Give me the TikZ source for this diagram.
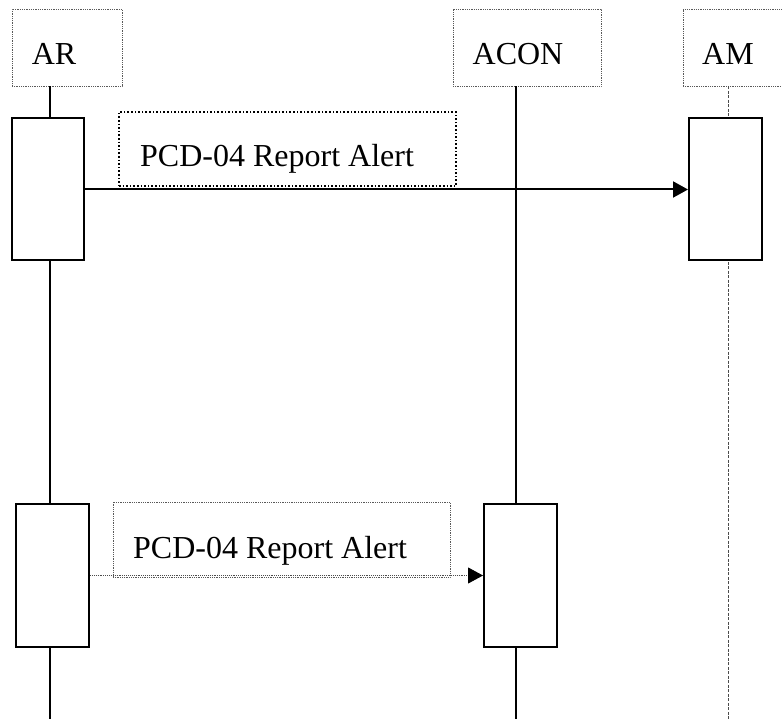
\documentclass[tikz,border=0pt]{standalone}
\usepackage{fontspec}
\setmainfont{Liberation Serif}
\usetikzlibrary{arrows.meta}
\begin{document}
\begin{tikzpicture}[x=1pt,y=-1pt,
  headbox/.style={draw=black!65,densely dotted,line width=0.8pt,inner sep=0pt},
  actbox/.style={draw=black,fill=white,line width=2pt,inner sep=0pt},
  lifesolid/.style={draw=black,line width=2pt},
  lifedash/.style={draw=black!70,line width=1pt,dash pattern=on 3pt off 1.5pt},
  lbltxt/.style={font=\fontsize{32}{38}\selectfont,inner sep=0pt},
  msgsolid/.style={line width=2pt,-{Triangle[length=15pt,width=16pt]}},
  msgdot/.style={draw=black!70,line width=0.9pt,densely dotted,-{Triangle[length=15pt,width=16pt,color=black,fill=black]}},
  notebold/.style={draw=black,dotted,line width=1.6pt,inner sep=0pt},
  notethin/.style={draw=black!65,densely dotted,line width=0.8pt,inner sep=0pt}]
\useasboundingbox (0,0) rectangle (782,719);
% heads
\node[headbox,minimum width=110pt,minimum height=77pt] (arhead) at (67,47.5) {};
\node[headbox,minimum width=148pt,minimum height=77pt] (aconhead) at (527,47.5) {};
\node[headbox,minimum width=107pt,minimum height=77pt] (amhead) at (736.5,47.5) {};
\node[lbltxt,anchor=base] (artxt) at (54,65) {AR};
\node[lbltxt,anchor=base] (acontxt) at (518,65) {ACON};
\node[lbltxt,anchor=base] (amtxt) at (728,65) {AM};
% lifeline ends
\coordinate (arend) at (50,719);
\coordinate (aconend) at (516,719);
\coordinate (amend) at (728,719);
\draw[lifesolid] (arhead.south -| arend) -- (arend);
\draw[lifesolid] (aconhead.south -| aconend) -- (aconend);
\draw[lifedash] (amhead.south -| amend) -- (amend);
% activations
\node[actbox,minimum width=72pt,minimum height=142pt] (act1) at (48,189.5) {};
\node[actbox,minimum width=73pt,minimum height=142pt] (act2) at (725.5,189.5) {};
\node[actbox,minimum width=73pt,minimum height=143pt] (act3) at (52.5,575.5) {};
\node[actbox,minimum width=73pt,minimum height=143pt] (act4) at (520.5,575.5) {};
% notes
\node[notebold,minimum width=337pt,minimum height=74pt] (note1) at (287.5,149) {};
\node[lbltxt,anchor=base west] (note1txt) at (140,167) {PCD-04 Report Alert};
\node[notethin,minimum width=337pt,minimum height=75pt] (note2) at (281.5,539.5) {};
\node[lbltxt,anchor=base west] (note2txt) at (133,558) {PCD-04 Report Alert};
% messages
\draw[msgsolid] (act1.east) -- (act2.west);
\draw[msgdot] (act3.east) -- (act4.west);
\end{tikzpicture}
\end{document}
